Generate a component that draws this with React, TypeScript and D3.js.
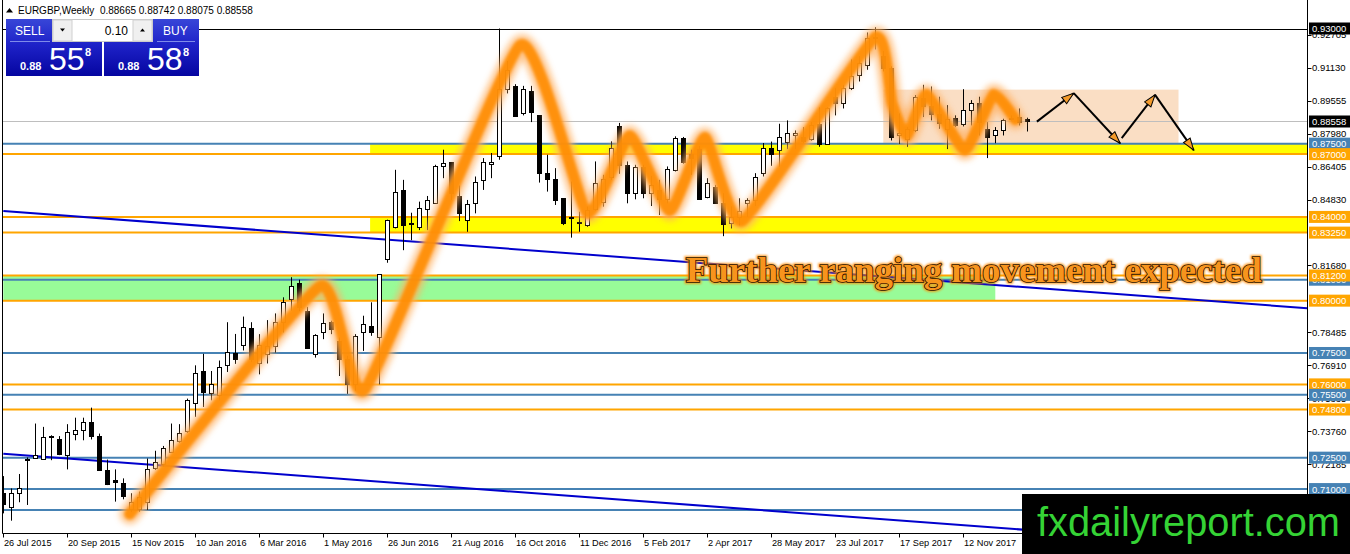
import React from 'react';
import * as d3 from 'd3';

// ---------------- DATA ----------------
const opens = [
  0.7079, 0.7016, 0.7079, 0.7240, 0.7250, 0.7246, 0.7350, 0.7341, 0.7262, 0.7365,
  0.7384, 0.7422, 0.7353, 0.7191, 0.7141, 0.7127, 0.7005, 0.7003, 0.7040, 0.7199,
  0.7222, 0.7278, 0.7330, 0.7378, 0.7511, 0.7662, 0.7559, 0.7548, 0.7691, 0.7749,
  0.7786, 0.7870, 0.7700, 0.7747, 0.7784, 0.7896, 0.8008, 0.8085, 0.7950, 0.7747,
  0.7848, 0.7896, 0.7808, 0.7720, 0.7600, 0.7848, 0.7880, 0.7827, 0.8197, 0.8353,
  0.8529, 0.8370, 0.8350, 0.8436, 0.8468, 0.8644, 0.8660, 0.8500, 0.8385, 0.8465,
  0.8577, 0.8655, 0.8689, 0.9010, 0.9026, 0.8897, 0.9002, 0.8885, 0.8612, 0.8580,
  0.8489, 0.8395, 0.8378, 0.8361, 0.8440, 0.8470, 0.8593, 0.8833, 0.8649, 0.8513,
  0.8638, 0.8516, 0.8530, 0.8484, 0.8625, 0.8777, 0.8700, 0.8723, 0.8497, 0.8542,
  0.8465, 0.8370, 0.8400, 0.8468, 0.8481, 0.8609, 0.8729, 0.8720, 0.8760, 0.8790,
  0.8784, 0.8773, 0.8842, 0.8750, 0.8974, 0.8942, 0.9015, 0.9079, 0.9127, 0.9256,
  0.9168, 0.9111, 0.8790, 0.8770, 0.8813, 0.8970, 0.8930, 0.8890, 0.8820, 0.8874,
  0.8845, 0.8913, 0.8942, 0.8821, 0.8789, 0.8813, 0.8870, 0.8877, 0.8866,
];
const highs = [
  0.7162, 0.7103, 0.7172, 0.7251, 0.7413, 0.7397, 0.7357, 0.7353, 0.7410, 0.7441,
  0.7441, 0.7489, 0.7365, 0.7241, 0.7194, 0.7151, 0.7080, 0.7088, 0.7246, 0.7283,
  0.7306, 0.7413, 0.7410, 0.7532, 0.7691, 0.7746, 0.7664, 0.7714, 0.7897, 0.7841,
  0.7924, 0.7897, 0.7840, 0.7907, 0.7939, 0.8016, 0.8112, 0.8100, 0.7970, 0.7840,
  0.7939, 0.7904, 0.7824, 0.7736, 0.7840, 0.7928, 0.7992, 0.8125, 0.8387, 0.8625,
  0.8577, 0.8420, 0.8473, 0.8500, 0.8649, 0.8721, 0.8660, 0.8550, 0.8481, 0.8593,
  0.8681, 0.8705, 0.9300, 0.9145, 0.9034, 0.9026, 0.9026, 0.8885, 0.8697, 0.8633,
  0.8489, 0.8569, 0.8425, 0.8449, 0.8665, 0.8601, 0.8761, 0.8849, 0.8665, 0.8649,
  0.8649, 0.8596, 0.8577, 0.8641, 0.8785, 0.8782, 0.8721, 0.8739, 0.8585, 0.8553,
  0.8513, 0.8450, 0.8489, 0.8489, 0.8609, 0.8753, 0.8760, 0.8845, 0.8861, 0.8813,
  0.8829, 0.8853, 0.8923, 0.8925, 0.9015, 0.9031, 0.9152, 0.9168, 0.9281, 0.9306,
  0.9192, 0.9119, 0.8894, 0.8829, 0.8982, 0.9031, 0.9023, 0.8974, 0.8934, 0.8885,
  0.9010, 0.8958, 0.8974, 0.8853, 0.8829, 0.8869, 0.8885, 0.8918, 0.8874,
];
const lows = [
  0.6984, 0.6949, 0.7037, 0.7024, 0.7245, 0.7241, 0.7238, 0.7262, 0.7194, 0.7333,
  0.7333, 0.7337, 0.7191, 0.7119, 0.7040, 0.7051, 0.6990, 0.6992, 0.7000, 0.7191,
  0.7206, 0.7273, 0.7321, 0.7368, 0.7445, 0.7492, 0.7524, 0.7524, 0.7659, 0.7698,
  0.7762, 0.7706, 0.7648, 0.7700, 0.7752, 0.7848, 0.7952, 0.7950, 0.7770, 0.7728,
  0.7816, 0.7840, 0.7640, 0.7555, 0.7570, 0.7760, 0.7832, 0.7600, 0.8181, 0.8345,
  0.8241, 0.8289, 0.8337, 0.8337, 0.8465, 0.8585, 0.8481, 0.8380, 0.8329, 0.8417,
  0.8529, 0.8585, 0.8673, 0.8990, 0.8878, 0.8885, 0.8853, 0.8564, 0.8521, 0.8457,
  0.8361, 0.8301, 0.8329, 0.8353, 0.8430, 0.8449, 0.8577, 0.8606, 0.8465, 0.8484,
  0.8489, 0.8452, 0.8409, 0.8465, 0.8617, 0.8654, 0.8601, 0.8481, 0.8489, 0.8462,
  0.8308, 0.8345, 0.8360, 0.8400, 0.8452, 0.8593, 0.8644, 0.8639, 0.8724, 0.8724,
  0.8752, 0.8764, 0.8735, 0.8748, 0.8885, 0.8918, 0.9006, 0.9047, 0.9103, 0.9200,
  0.9095, 0.8765, 0.8748, 0.8735, 0.8805, 0.8877, 0.8861, 0.8821, 0.8724, 0.8829,
  0.8832, 0.8837, 0.8789, 0.8681, 0.8752, 0.8789, 0.8861, 0.8837, 0.8808,
];
const closes = [
  0.7029, 0.7079, 0.7103, 0.7246, 0.7262, 0.7349, 0.7353, 0.7267, 0.7373, 0.7384,
  0.7422, 0.7353, 0.7191, 0.7124, 0.7132, 0.7067, 0.7040, 0.7064, 0.7194, 0.7230,
  0.7294, 0.7333, 0.7368, 0.7524, 0.7654, 0.7564, 0.7603, 0.7683, 0.7754, 0.7722,
  0.7873, 0.7722, 0.7790, 0.7784, 0.7896, 0.7992, 0.8072, 0.7970, 0.7776, 0.7835,
  0.7891, 0.7864, 0.7720, 0.7603, 0.7830, 0.7888, 0.7848, 0.8125, 0.8387, 0.8521,
  0.8361, 0.8372, 0.8441, 0.8481, 0.8644, 0.8657, 0.8516, 0.8420, 0.8462, 0.8569,
  0.8660, 0.8660, 0.9010, 0.9100, 0.8881, 0.9013, 0.8901, 0.8612, 0.8580, 0.8481,
  0.8369, 0.8400, 0.8370, 0.8433, 0.8560, 0.8580, 0.8729, 0.8649, 0.8516, 0.8638,
  0.8513, 0.8553, 0.8485, 0.8628, 0.8777, 0.8660, 0.8680, 0.8484, 0.8561, 0.8468,
  0.8366, 0.8400, 0.8430, 0.8480, 0.8590, 0.8729, 0.8700, 0.8780, 0.8800, 0.8800,
  0.8761, 0.8837, 0.8748, 0.8920, 0.8942, 0.9015, 0.9074, 0.9135, 0.9256, 0.9260,
  0.9111, 0.8781, 0.8800, 0.8820, 0.8971, 0.8930, 0.8890, 0.8850, 0.8870, 0.8837,
  0.8913, 0.8945, 0.8853, 0.8781, 0.8813, 0.8861, 0.8874, 0.8853, 0.8856,
];

const dateTickBars = [0, 8, 16, 24, 32, 40, 48, 56, 64, 72, 80, 88, 96, 104, 112, 120];
const dateTickLabels = [
  '26 Jul 2015', '20 Sep 2015', '15 Nov 2015', '10 Jan 2016', '6 Mar 2016', '1 May 2016',
  '26 Jun 2016', '21 Aug 2016', '16 Oct 2016', '11 Dec 2016', '5 Feb 2017', '2 Apr 2017',
  '28 May 2017', '23 Jul 2017', '17 Sep 2017', '12 Nov 2017',
];
const priceTicks = [0.92705, 0.9113, 0.89555, 0.8798, 0.86405, 0.8483, 0.8168, 0.78485, 0.7691, 0.75335, 0.7376, 0.72185, 0.7061];

const levelPrices = [0.875, 0.87, 0.84, 0.8325, 0.81, 0.812, 0.80, 0.775, 0.76, 0.755, 0.748, 0.725, 0.71, 0.70];
const levelKinds = ['blue', 'orange', 'orange', 'orange', 'blue', 'orange', 'orange', 'blue', 'orange', 'blue', 'orange', 'blue', 'blue', 'blue'];
// the 0.70 level's price tag sits under the logo, so it is not labelled
const levelLabelled = [true, true, true, true, true, true, true, true, true, true, true, true, true, false];

const topLinePrice = 0.93;
const bidPrice = 0.88558;
const headerText = 'EURGBP,Weekly  0.88665 0.88742 0.88075 0.88558';

// zones: [fromBar, toBar, priceHigh, priceLow]
const yellowZones = [[45.85, 163, 0.875, 0.87], [45.85, 163, 0.84, 0.8325]];
const greenZone = [0, 124, 0.812, 0.80];
const peachZone = [110, 146.9, 0.9008, 0.8752];

// trend lines: [bar1, price1, bar2, price2]
const trendLines = [[0, 0.8428, 163, 0.7964], [0, 0.7269, 163, 0.6805]];

// hand-drawn orange path [bar, price]
const glowPoints: [number, number][] = [
  [15.8, 0.6981], [39.6, 0.8069], [45.2, 0.7576], [64.6, 0.9220], [72.96, 0.8419],
  [78.3, 0.8788], [83.3, 0.8429], [87.7, 0.8779], [92.4, 0.8381], [108.95, 0.9258],
  [111.1, 0.8942], [112.9, 0.8785], [115.4, 0.8985], [120.2, 0.8720], [123.8, 0.8985],
  [126.5, 0.8865],
];

// forecast arrows [bar1, price1, bar2, price2]
const arrows = [
  [129.2, 0.8855, 133.8, 0.8991],
  [133.8, 0.8991, 139.6, 0.8752],
  [139.8, 0.8776, 143.97, 0.8983],
  [143.97, 0.8983, 148.8, 0.8719],
];

const noteText = 'Further ranging movement expected';
const notePos = [85.3, 0.8089];

// ---------------- COMPONENT ----------------
export default function App() {
  React.useEffect(() => {
    document.body.style.margin = '0';
  }, []);

  const W = 1350, H = 554;
  const plotL = 2.5, plotR = 1307.5, plotB = 533.5;
  const x = d3.scaleLinear().domain([0, 163]).range([3.3, 1307.3]);
  const y = d3.scaleLinear().domain([0.70, 0.93]).range([510, 28.5]);
  const px = (v: number) => Math.round(v) + 0.5;
  const lvlColor: Record<string, string> = { blue: '#4682B4', orange: '#FFA500' };

  const glowLine = d3.line<[number, number]>()
    .x(d => x(d[0]))
    .y(d => y(d[1]))
    .curve(d3.curveCardinal.tension(0.55));
  const glowD = glowLine(glowPoints) || '';

  const axisFont = "'Liberation Sans', Arial, sans-serif";

  const priceLabel = (p: number, bg: string, key: string) => {
    const cy = y(p);
    return (
      <g key={key}>
        <rect x={1309} y={cy - 6} width={41} height={12} fill={bg} />
        <text x={1312} y={cy + 3.5} fontSize={9.5} fill="#fff" fontFamily={axisFont}>{p.toFixed(5)}</text>
      </g>
    );
  };

  return (
    <svg width={W} height={H} style={{ position: 'absolute', left: 0, top: 0, display: 'block', background: '#fff' }}
      xmlns="http://www.w3.org/2000/svg">
      <defs>
        <clipPath id="plot">
          <rect x={plotL} y={0} width={plotR - plotL} height={plotB} />
        </clipPath>
        <filter id="blurOuter" x="-20%" y="-20%" width="140%" height="140%">
          <feGaussianBlur stdDeviation="3" />
        </filter>
        <filter id="blurInner" x="-20%" y="-20%" width="140%" height="140%">
          <feGaussianBlur stdDeviation="1.4" />
        </filter>
        <filter id="textGlow" x="-5%" y="-30%" width="110%" height="160%">
          <feGaussianBlur stdDeviation="1.2" />
        </filter>
        <marker id="arrowHead" viewBox="0 0 14 10" refX="13" refY="5" markerWidth="14" markerHeight="10"
          markerUnits="userSpaceOnUse" orient="auto">
          <path d="M1,1 L13,5 L1,9 Z" fill="#F39A2B" stroke="#000" strokeWidth="1" />
        </marker>
        <linearGradient id="btnGrad" x1="0" y1="0" x2="0" y2="1">
          <stop offset="0" stopColor="#3846D8" />
          <stop offset="0.45" stopColor="#1E22C8" />
          <stop offset="1" stopColor="#0505A0" />
        </linearGradient>
      </defs>

      <rect x={0} y={0} width={W} height={H} fill="#fff" />

      <g clipPath="url(#plot)">
        {/* zones */}
        <rect x={x(greenZone[0])} y={y(greenZone[2])} width={x(greenZone[1]) - x(greenZone[0])}
          height={y(greenZone[3]) - y(greenZone[2])} fill="#98FB98" />
        {yellowZones.map((z, k) => (
          <rect key={'yz' + k} x={x(z[0])} y={y(z[2])} width={x(z[1]) - x(z[0])} height={y(z[3]) - y(z[2])} fill="#FFFF00" />
        ))}
        <rect x={x(peachZone[0])} y={y(peachZone[2])} width={x(peachZone[1]) - x(peachZone[0])}
          height={y(peachZone[3]) - y(peachZone[2])} fill="#FADEC4" />

        {/* horizontal levels */}
        {levelPrices.map((p, k) => (
          <line key={'lv' + k} x1={plotL} x2={plotR} y1={y(p)} y2={y(p)} stroke={lvlColor[levelKinds[k]]} strokeWidth={2} />
        ))}
        <line x1={plotL} x2={plotR} y1={px(y(bidPrice))} y2={px(y(bidPrice))} stroke="#BEBEBE" strokeWidth={1} />
        <line x1={plotL} x2={plotR} y1={px(y(topLinePrice))} y2={px(y(topLinePrice))} stroke="#000" strokeWidth={1} />

        {/* trend lines */}
        {trendLines.map((t, k) => (
          <line key={'tl' + k} x1={x(t[0])} y1={y(t[1])} x2={x(t[2])} y2={y(t[3])} stroke="#0000CD" strokeWidth={2} />
        ))}

        {/* candles */}
        {opens.map((o, i) => {
          const c = closes[i];
          const cx = px(x(i));
          const bull = c >= o;
          const top = Math.round(y(Math.max(o, c)));
          const bot = Math.round(y(Math.min(o, c)));
          const h = Math.max(bot - top, 1);
          return (
            <g key={'c' + i}>
              <line x1={cx} x2={cx} y1={y(highs[i])} y2={y(lows[i])} stroke="#000" strokeWidth={1} />
              {bull ? (
                <rect x={cx - 2} y={top + 0.5} width={4} height={h} fill="#fff" stroke="#000" strokeWidth={1} />
              ) : (
                <rect x={cx - 2.5} y={top} width={5} height={h + 1} fill="#000" />
              )}
            </g>
          );
        })}

        {/* orange hand-drawn path */}
        <path d={glowD} fill="none" stroke="#FFB060" strokeWidth={20} strokeLinecap="round" strokeLinejoin="round"
          opacity={0.75} filter="url(#blurOuter)" />
        <path d={glowD} fill="none" stroke="#FF8C00" strokeWidth={11} strokeLinecap="round" strokeLinejoin="round"
          opacity={0.9} filter="url(#blurInner)" />

        {/* forecast arrows */}
        {arrows.map((a, k) => (
          <line key={'ar' + k} x1={x(a[0])} y1={y(a[1])} x2={x(a[2])} y2={y(a[3])} stroke="#000" strokeWidth={2}
            markerEnd="url(#arrowHead)" />
        ))}

        {/* note */}
        <text x={x(notePos[0])} y={y(notePos[1])} fontSize={36} fontWeight="bold"
          fontFamily="'Liberation Serif', 'Times New Roman', serif" fill="#FF8C00" opacity={0.8}
          textLength={576} lengthAdjust="spacingAndGlyphs" filter="url(#textGlow)" stroke="#FF8C00" strokeWidth={4}>{noteText}</text>
        <text x={x(notePos[0])} y={y(notePos[1])} fontSize={36} fontWeight="bold"
          fontFamily="'Liberation Serif', 'Times New Roman', serif" fill="#F7941D" stroke="#2a1200" strokeWidth={1.6}
          style={{ paintOrder: 'stroke' }}
          textLength={576} lengthAdjust="spacingAndGlyphs">{noteText}</text>
      </g>

      {/* frame / axes */}
      <line x1={plotL} x2={plotL} y1={0} y2={plotB} stroke="#000" strokeWidth={1} />
      <line x1={plotR} x2={plotR} y1={0} y2={plotB} stroke="#000" strokeWidth={1} />
      <line x1={plotL} x2={plotR} y1={plotB} y2={plotB} stroke="#000" strokeWidth={1} />

      {/* price axis ticks */}
      {priceTicks.map((p, k) => (
        <g key={'pt' + k}>
          <line x1={plotR} x2={plotR + 4} y1={px(y(p))} y2={px(y(p))} stroke="#000" />
          <text x={1312} y={y(p) + 3.5} fontSize={9.5} fill="#000" fontFamily={axisFont}>{p.toFixed(5)}</text>
        </g>
      ))}
      {levelPrices.map((p, k) => (levelLabelled[k] ? priceLabel(p, lvlColor[levelKinds[k]], 'pl' + k) : null))}
      {priceLabel(topLinePrice, '#000', 'top')}
      {priceLabel(bidPrice, '#000', 'bid')}

      {/* date axis */}
      {dateTickBars.map((b, k) => (
        <g key={'dt' + k}>
          <line x1={px(x(b))} x2={px(x(b))} y1={plotB} y2={plotB + 4} stroke="#000" />
          <text x={px(x(b)) + 0.5} y={546} fontSize={9.2} fill="#000" fontFamily={axisFont}>{dateTickLabels[k]}</text>
        </g>
      ))}

      {/* header */}
      <path d="M6,12.5 L9.5,8 L13,12.5 Z" fill="#000" />
      <text x={18} y={14} fontSize={10} fill="#000" fontFamily={axisFont} style={{ whiteSpace: 'pre' }}>{headerText}</text>

      {/* one-click trading panel */}
      <g fontFamily={axisFont}>
        <rect x={6} y={19} width={96} height={57} fill="url(#btnGrad)" />
        <rect x={104} y={19} width={95} height={57} fill="url(#btnGrad)" />
        <line x1={10} x2={50} y1={41.5} y2={41.5} stroke="#7F8BEA" />
        <line x1={157} x2={195} y1={41.5} y2={41.5} stroke="#7F8BEA" />
        <text x={15} y={35} fontSize={12} fill="#fff">SELL</text>
        <text x={163} y={35} fontSize={12} fill="#fff">BUY</text>
        <rect x={52.5} y={19.5} width={100} height={22} fill="#fff" stroke="#C8C8C8" />
        <rect x={53} y={20} width={19} height={21} fill="#F0F0F0" stroke="#D0D0D0" />
        <rect x={133} y={20} width={19} height={21} fill="#F0F0F0" stroke="#D0D0D0" />
        <path d="M60,28.5 L65,28.5 L62.5,31.5 Z" fill="#000" />
        <path d="M140,31.5 L145,31.5 L142.5,28.5 Z" fill="#000" />
        <text x={128} y={35} fontSize={12} fill="#000" textAnchor="end">0.10</text>
        <text x={20} y={70} fontSize={11} fontWeight="bold" fill="#fff">0.88</text>
        <text x={49} y={70} fontSize={32} fill="#fff">55</text>
        <text x={85} y={56} fontSize={11} fontWeight="bold" fill="#fff">8</text>
        <text x={118} y={70} fontSize={11} fontWeight="bold" fill="#fff">0.88</text>
        <text x={147} y={70} fontSize={32} fill="#fff">58</text>
        <text x={183} y={56} fontSize={11} fontWeight="bold" fill="#fff">8</text>
      </g>

      {/* logo */}
      <rect x={1022} y={494} width={328} height={60} fill="#000" />
      <text x={1037} y={536} fontSize={40} fill="#35D335" fontFamily="'Liberation Sans', Arial, sans-serif"
        textLength={303} lengthAdjust="spacingAndGlyphs">fxdailyreport.com</text>
    </svg>
  );
}
